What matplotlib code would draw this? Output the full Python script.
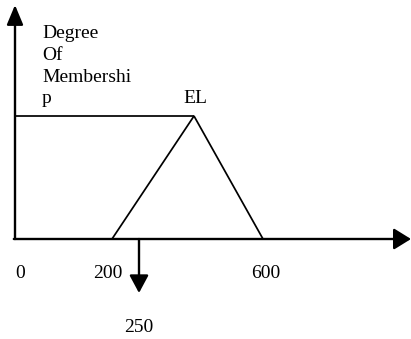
import numpy as np
import matplotlib
matplotlib.use("Agg")
import matplotlib.pyplot as plt

plt.rcParams['font.family'] = ['Liberation Serif', 'DejaVu Serif']

# membership function "EL" (trapezoid-ish step + triangle)
flat_x = [0, 400]
flat_y = [1, 1]
tri_x = [200, 400, 600]
tri_y = [0, 1, 0]
tick_vals = [0, 200, 600]
tick_labels = ['0', '200', '600']
cut_val = 250
cut_label = '250'
set_name = 'EL'
y_title = 'Degree\nOf\nMembershi\np'

# schematic (not to scale) x axis
knots_val = np.array([0, 200, 250, 400, 600, 800])
knots_pos = np.array([0, 97, 124, 179, 248, 396])


def fwd(v):
    return np.interp(v, knots_val, knots_pos)


def inv(p):
    return np.interp(p, knots_pos, knots_val)


fs = 14
fig = plt.figure(figsize=(4.11, 3.39), dpi=100)
ax = fig.add_axes([15/411, 100/339, 396/411, 234/339])
ax.set_xscale('function', functions=(fwd, inv))
ax.set_xlim(0, 800)
ax.set_ylim(0, 234/123)
ax.axis('off')

# axes with arrows
ax.annotate('', xy=(0, 1), xytext=(0, 0), xycoords='axes fraction',
            arrowprops=dict(arrowstyle='-|>,head_length=1.2,head_width=0.5',
                            color='black', lw=1.7, shrinkA=0, shrinkB=0,
                            mutation_scale=10))
ax.annotate('', xy=(1, 0), xytext=(-0.003, 0), xycoords='axes fraction',
            arrowprops=dict(arrowstyle='-|>,head_length=1.05,head_width=0.65',
                            color='black', lw=1.7, shrinkA=0, shrinkB=0,
                            mutation_scale=10))

ax.plot(flat_x, flat_y, color='black', lw=1.25, solid_capstyle='butt')
ax.plot(tri_x, tri_y, color='black', lw=1.25, solid_joinstyle='miter')

# arrow down at the crisp value
ax.annotate('', xy=(cut_val, 0), xytext=(0, -54), textcoords='offset pixels',
            arrowprops=dict(arrowstyle='<|-,head_length=1.08,head_width=0.58',
                            color='black', lw=1.7, shrinkA=0, shrinkB=0,
                            mutation_scale=10))
ax.annotate(cut_label, xy=(cut_val, 0), xytext=(0, -88), textcoords='offset pixels',
            ha='center', va='center', fontsize=fs)

offs = {'0': (0, -34), '200': (-4, -34), '600': (3, -34)}
for v, lab in zip(tick_vals, tick_labels):
    ha = 'left' if v == 0 else 'center'
    ax.annotate(lab, xy=(v, 0), xytext=offs[lab], textcoords='offset pixels',
                ha=ha, va='center', fontsize=fs)

ax.annotate(set_name, xy=(400, 1), xytext=(1, 18), textcoords='offset pixels',
            ha='center', va='center', fontsize=fs)
ax.annotate(y_title, xy=(0, 1), xytext=(27, 91), textcoords='offset pixels',
            ha='left', va='top', fontsize=fs, linespacing=1.37)

fig.savefig('out.png', dpi=100)
